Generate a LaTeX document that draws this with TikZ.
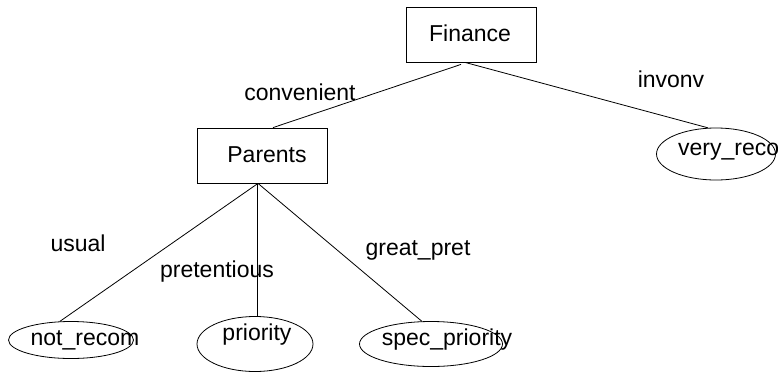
\documentclass[tikz,border=0pt]{standalone}
\usepackage{fontspec}
\setmainfont{Liberation Sans}
\usetikzlibrary{shapes}
\tikzset{
    x=1pt, y=-1pt,
    every node/.style={font=\fontsize{23}{27}\selectfont},
    attr/.style={draw, line width=0.8pt, minimum width=130pt, minimum height=55pt},
    leaf/.style={draw, ellipse, line width=0.8pt, inner sep=0pt},
    branch/.style={line width=0.8pt},
}
\begin{document}
\begin{tikzpicture}
            \useasboundingbox (0,0) rectangle (778,375);

            \node[attr] (F) at (471,34.5) {};
            \node (Ft) at (470,33) {Finance};
            \node[attr] (P) at (262,155.5) {};
            \node (Pt) at (267,155) {Parents};

            \node[leaf, minimum width=119pt, minimum height=52pt] (V) at (716,154) {};
            \node[anchor=west, inner sep=0pt] (Vt) at (678,152) {very\_reco};
            \node[leaf, minimum width=125pt, minimum height=37pt] (N) at (71,340) {};
            \node (Nt) at (85,340) {not\_recom};
            \node[leaf, minimum width=116pt, minimum height=55pt] (R) at (255,344) {};
            \node (Rt) at (257,335) {priority};
            \node[leaf, minimum width=143pt, minimum height=45pt] (S) at (431,344) {};
            \node (St) at (447,340) {spec\_priority};

            % edge labels
            \node (conv) at (300,92) {convenient};
            \node (inv) at (671,79) {invonv};
            \node (us) at (78,243) {usual};
            \node (pre) at (217,272) {pretentious};
            \node (gp) at (418,250) {great\_pret};

            \draw[branch] ([xshift=-10pt,yshift=-2pt]F.south) -- ([xshift=11pt]P.north);
            \draw[branch] ([xshift=-6pt]F.south) -- (V.107);
            \draw[branch] ([xshift=-4pt]P.south) -- (N.121);
            \draw[branch] ([xshift=-5pt]P.south) -- ([xshift=2pt]R.north);
            \draw[branch] ([xshift=-4pt]P.south) -- (S.112);
        \end{tikzpicture}
\end{document}
